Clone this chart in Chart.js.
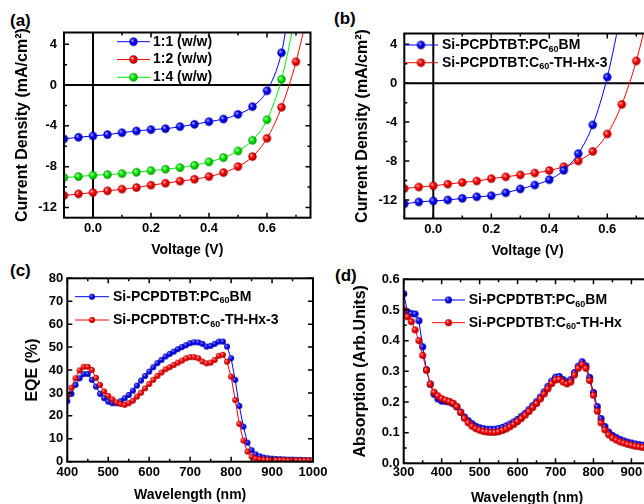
<!DOCTYPE html>
<html>
<head>
<meta charset="utf-8">
<title>Si-PCPDTBT devices</title>
<script src="https://cdn.jsdelivr.net/npm/chart.js@4.4.1/dist/chart.umd.min.js"></script>
<style>
  html, body { margin: 0; padding: 0; background: #fff; }
  body { position: relative; width: 644px; height: 504px; overflow: hidden; }
  canvas { position: absolute; }
  .tag { position: absolute; font: bold 17px 'Liberation Sans', Arial, sans-serif; color: #000; line-height: 20px; }
</style>
</head>
<body>
<div class="tag" style="left:10px;top:11px">(a)</div>
<div class="tag" style="left:334px;top:9px">(b)</div>
<div class="tag" style="left:10px;top:261px">(c)</div>
<div class="tag" style="left:335px;top:266px">(d)</div>
<canvas id="chartA" width="322" height="262" style="left:0;top:0;width:322px;height:262px"></canvas>
<canvas id="chartB" width="350" height="262" style="left:322px;top:0;width:350px;height:262px"></canvas>
<canvas id="chartC" width="340" height="258" style="left:0;top:250px;width:340px;height:258px"></canvas>
<canvas id="chartD" width="370" height="258" style="left:322px;top:250px;width:370px;height:258px"></canvas>
<script>
// ---- J-V data (V, mA/cm2) ----
const voltage = [-0.1, -0.05, 0, 0.05, 0.1, 0.15, 0.2, 0.25, 0.3, 0.35, 0.4, 0.45, 0.5, 0.55, 0.6, 0.65, 0.7];
const j11 = [-5.28, -5.12, -4.99, -4.86, -4.67, -4.5, -4.37, -4.28, -4.08, -3.85, -3.59, -3.33, -2.87, -2.12, -0.56, 3.16, null];
const j12 = [-10.83, -10.67, -10.54, -10.37, -10.2, -10.05, -9.81, -9.62, -9.42, -9.23, -8.97, -8.58, -7.99, -7.01, -5.22, -2.18, 2.28];
const j14 = [-9.07, -8.97, -8.84, -8.78, -8.68, -8.54, -8.39, -8.25, -8.09, -7.86, -7.53, -7.11, -6.46, -5.41, -3.4, 0.56, null];
const jPcbm = [-12.4, -12.2, -12.1, -12.0, -11.83, -11.67, -11.56, -11.26, -10.87, -10.46, -9.92, -8.95, -7.24, -4.29, 0.62, null, null];
// fitted curve continues above the frame
const tail11 = [0.675, 7.2];
const tail12 = [0.74, 7.0];
const tail14 = [0.70, 7.0];
const tailPcbm = [0.65, 7.6];

// ---- EQE data (nm, %) ----
const eqeNm = [400, 410, 420, 430, 440, 450, 460, 470, 480, 490, 500, 510, 520, 530, 540, 550, 560, 570, 580, 590,
  600, 610, 620, 630, 640, 650, 660, 670, 680, 690, 700, 710, 720, 730, 740, 750, 760, 770, 780, 790,
  800, 810, 820, 830, 840, 850, 860, 870, 880, 890, 900, 910, 920, 930, 940, 950, 960, 970, 980, 990, 1000];
const eqePcbm = [26.4, 29.6, 33.5, 36.4, 38.2, 38.3, 35.7, 32.8, 29.6, 27.7, 26.2, 25.5, 25.5, 26.4, 27.7, 29.1, 31.0, 33.2, 35.4, 37.4,
  39.3, 41.2, 43.0, 44.4, 45.9, 47.0, 48.0, 49.1, 50.0, 50.8, 51.7, 52.1, 52.0, 51.4, 50.2, 50.5, 51.4, 52.4, 52.4, 50.2,
  45.1, 35.7, 24.3, 15.3, 8.3, 5.0, 3.2, 2.3, 1.8, 1.5, 1.3, 1.2, 1.1, 1.0, 0.9, 0.9, 0.8, 0.8, 0.7, 0.7, 0.6];
const eqeTh = [28.8, 32.3, 36.4, 39.8, 41.4, 41.4, 40.0, 36.6, 33.5, 30.6, 28.7, 27.2, 25.9, 25.2, 24.8, 25.5, 26.6, 28.4, 30.1, 32.0,
  33.9, 35.7, 37.4, 38.9, 40.3, 41.2, 42.2, 43.2, 44.1, 45.1, 45.6, 45.6, 45.1, 43.7, 42.9, 43.2, 44.4, 46.2, 46.6, 43.6,
  37.1, 26.9, 16.5, 9.2, 4.4, 2.2, 1.4, 1.1, 0.9, 0.8, 0.8, 0.7, 0.7, 0.7, 0.6, 0.6, 0.6, 0.5, 0.5, 0.5, 0.5];

// ---- absorption data (nm, a.u.) ----
const absNm = [300, 310, 320, 330, 340, 350, 360, 370, 380, 390, 400, 410, 420, 430, 440, 450, 460, 470, 480, 490,
  500, 510, 520, 530, 540, 550, 560, 570, 580, 590, 600, 610, 620, 630, 640, 650, 660, 670, 680, 690,
  700, 710, 720, 730, 740, 750, 760, 770, 780, 790, 800, 810, 820, 830, 840, 850, 860, 870, 880, 890,
  900, 910, 920, 930, 940, 950];
const absPcbm = [0.553, 0.494, 0.488, 0.487, 0.465, 0.38, 0.305, 0.258, 0.225, 0.21, 0.203, 0.202, 0.2, 0.194, 0.184, 0.167, 0.151, 0.139, 0.129, 0.121,
  0.116, 0.113, 0.111, 0.111, 0.111, 0.113, 0.117, 0.122, 0.128, 0.135, 0.143, 0.153, 0.163, 0.175, 0.188, 0.201, 0.216, 0.233, 0.251, 0.268,
  0.281, 0.283, 0.273, 0.265, 0.273, 0.296, 0.317, 0.331, 0.318, 0.28, 0.231, 0.185, 0.146, 0.12, 0.102, 0.091, 0.084, 0.078, 0.073, 0.069,
  0.066, 0.063, 0.061, 0.059, 0.057, 0.055];
const absTh = [0.50, 0.478, 0.462, 0.435, 0.40, 0.352, 0.304, 0.258, 0.232, 0.22, 0.211, 0.206, 0.202, 0.196, 0.185, 0.166, 0.147, 0.132, 0.121, 0.113,
  0.108, 0.104, 0.102, 0.101, 0.101, 0.103, 0.107, 0.112, 0.119, 0.127, 0.136, 0.146, 0.157, 0.169, 0.182, 0.195, 0.21, 0.226, 0.243, 0.26,
  0.272, 0.274, 0.265, 0.259, 0.265, 0.288, 0.31, 0.322, 0.31, 0.27, 0.222, 0.17, 0.132, 0.109, 0.093, 0.083, 0.076, 0.07, 0.066, 0.062,
  0.059, 0.056, 0.054, 0.052, 0.05, 0.049];

// ---- tick labels / legend text ----
const ivTicksX = [0.0, 0.2, 0.4, 0.6];
const ivTicksY = [-12, -8, -4, 0, 4];
const nmTicksC = [400, 500, 600, 700, 800, 900, 1000];
const eqeTicks = [0, 10, 20, 30, 40, 50, 60, 70, 80];
const nmTicksD = [300, 400, 500, 600, 700, 800, 900];
const absTicks = [0.0, 0.1, 0.2, 0.3, 0.4, 0.5, 0.6];
const legendA = ['1:1 (w/w)', '1:2 (w/w)', '1:4 (w/w)'];
const legendB = ['Si-PCPDTBT:PC_{60}BM', 'Si-PCPDTBT:C_{60}-TH-Hx-3'];
const legendD = ['Si-PCPDTBT:PC_{60}BM', 'Si-PCPDTBT:C_{60}-TH-Hx'];

const FONT = "'Liberation Sans', Arial, sans-serif";
Chart.defaults.font.family = FONT;
Chart.defaults.font.weight = 'bold';
Chart.defaults.color = '#000';
Chart.defaults.animation = false;
Chart.defaults.plugins.legend.display = false;
Chart.defaults.plugins.tooltip.enabled = false;

const BLUE = ['#a0a0ff', '#0000ff', '#00009a'];
const RED = ['#ffa8a8', '#ff0000', '#a00000'];
const GREEN = ['#b8ffb8', '#00f000', '#008c00'];

// shaded ball used as marker
function ball(col, r) {
  const c = document.createElement('canvas');
  const s = Math.ceil(2 * r + 2);
  c.width = c.height = s;
  const g = c.getContext('2d');
  const m = s / 2;
  const grad = g.createRadialGradient(m - r * 0.35, m - r * 0.35, r * 0.1, m, m, r);
  grad.addColorStop(0, col[0]);
  grad.addColorStop(0.45, col[1]);
  grad.addColorStop(1, col[2]);
  g.fillStyle = grad;
  g.beginPath();
  g.arc(m, m, r, 0, Math.PI * 2);
  g.fill();
  return c;
}

function series(xs, ys, tail, col, r, smooth, order) {
  const pts = xs.map((x, i) => ({x: x, y: ys[i]})).filter(p => p.y !== null);
  if (tail) pts.push({x: tail[0], y: tail[1], tail: true});
  return {
    data: pts,
    borderColor: col[1],
    borderWidth: 1,
    pointStyle: ball(col, r),
    pointRadius: c => (c.raw && c.raw.tail) ? 0 : r,
    cubicInterpolationMode: smooth ? 'monotone' : 'default',
    tension: 0,
    order: order || 0
  };
}

function axes(o) {
  return {
    x: {
      type: 'linear', min: o.x[0], max: o.x[1],
      afterBuildTicks: s => { s.ticks = o.xTicks.map(v => ({value: v})); },
      afterFit: s => { s.height = o.xSize; },
      grid: {display: false, drawTicks: false},
      border: {display: false},
      ticks: {padding: o.xPad, font: {size: 13}, maxRotation: 0, autoSkip: false, callback: o.xFmt},
      title: {display: true, text: o.xTitle, font: {size: 14}, padding: {top: 0, bottom: o.xTitlePad}}
    },
    y: {
      type: 'linear', min: o.y[0], max: o.y[1],
      afterBuildTicks: s => { s.ticks = o.yTicks.map(v => ({value: v})); },
      afterFit: s => { s.width = o.ySize; },
      grid: {display: false, drawTicks: false},
      border: {display: false},
      ticks: {padding: o.yPad, font: {size: 13}, autoSkip: false, callback: o.yFmt},
      title: {display: true, text: o.yTitle, font: {size: 16}, padding: {top: o.yTitlePad, bottom: 0}}
    }
  };
}

// Origin-style frame: inward ticks on all sides, optional zero lines
const frame = {
  id: 'frame',
  beforeDatasetsDraw(chart, args, o) {
    if (!o.zero) return;
    const {ctx, chartArea: a, scales: {x, y}} = chart;
    const x0 = x.getPixelForValue(0), y0 = y.getPixelForValue(0);
    ctx.save();
    ctx.strokeStyle = '#000';
    ctx.lineWidth = 2;
    ctx.beginPath();
    ctx.moveTo(x0, a.top); ctx.lineTo(x0, a.bottom);
    ctx.moveTo(a.left, y0); ctx.lineTo(a.right, y0);
    ctx.stroke();
    ctx.restore();
  },
  afterDatasetsDraw(chart, args, o) {
    const {ctx, chartArea: a, scales: {x, y}} = chart;
    ctx.save();
    ctx.strokeStyle = '#000';
    ctx.lineWidth = 1.5;
    ctx.beginPath();
    const marks = (scale, step, len, horiz) => {
      for (let k = Math.ceil(scale.min / step - 1e-6); k * step <= scale.max + 1e-6; k++) {
        const p = scale.getPixelForValue(k * step);
        if (horiz) {
          ctx.moveTo(p, a.bottom); ctx.lineTo(p, a.bottom - len);
          ctx.moveTo(p, a.top); ctx.lineTo(p, a.top + len);
        } else {
          ctx.moveTo(a.left, p); ctx.lineTo(a.left + len, p);
          ctx.moveTo(a.right, p); ctx.lineTo(a.right - len, p);
        }
      }
    };
    marks(x, o.xMinor, 3, true);
    marks(y, o.yMinor, 3, false);
    marks(x, o.xMajor, 5, true);
    marks(y, o.yMajor, 5, false);
    ctx.stroke();
    ctx.lineWidth = 2;
    ctx.strokeRect(a.left, a.top, a.width, a.height);
    ctx.restore();
  }
};

// text with _{sub} parts
function richText(ctx, text, x, y, size) {
  const parts = text.split(/(_\{[^}]*\})/).filter(Boolean);
  ctx.textBaseline = 'middle';
  ctx.textAlign = 'left';
  parts.forEach(p => {
    const sub = p.startsWith('_{');
    const t = sub ? p.slice(2, -1) : p;
    ctx.font = 'bold ' + (sub ? Math.round(size * 0.62) : size) + 'px ' + FONT;
    ctx.fillText(t, x, sub ? y + size * 0.3 : y);
    x += ctx.measureText(t).width;
  });
}

const legendBox = {
  id: 'legendBox',
  afterDraw(chart, args, o) {
    const ctx = chart.ctx;
    ctx.save();
    ctx.fillStyle = '#000';
    o.labels.forEach((label, i) => {
      const ds = chart.data.datasets[i];
      const y = o.y + i * o.dy;
      ctx.strokeStyle = ds.borderColor;
      ctx.lineWidth = 1;
      ctx.beginPath();
      ctx.moveTo(o.x, y); ctx.lineTo(o.x + o.len, y);
      ctx.stroke();
      const img = ds.pointStyle;
      ctx.drawImage(img, o.x + o.len / 2 - img.width / 2, y - img.height / 2);
      ctx.fillStyle = '#000';
      richText(ctx, label, o.x + o.len + o.gap, y, 14);
    });
    ctx.restore();
  }
};

const fmt1 = v => Number(v).toFixed(1);
const fmt0 = v => String(v);

// (a) J-V for blend ratios
new Chart(document.getElementById('chartA'), {
  type: 'line',
  data: {datasets: [
    series(voltage, j11, tail11, BLUE, 4.2, true),
    series(voltage, j12, tail12, RED, 4.2, true),
    series(voltage, j14, tail14, GREEN, 4.2, true)
  ]},
  options: {
    responsive: false,
    layout: {padding: {left: 0, top: 32.5, right: 11.5, bottom: 0}},
    scales: axes({x: [-0.1, 0.75], y: [-13, 5.15], xTicks: ivTicksX, yTicks: ivTicksY,
      xSize: 44.3, ySize: 64, xPad: 3, yPad: 7, xFmt: fmt1, yFmt: fmt0,
      xTitle: 'Voltage (V)', yTitle: 'Current Density (mA/cm²)', xTitlePad: 3, yTitlePad: 13}),
    plugins: {
      frame: {zero: true, xMajor: 0.2, xMinor: 0.1, yMajor: 4, yMinor: 2},
      legendBox: {labels: legendA, x: 117, y: 41.7, dy: 17.8, len: 33, gap: 3}
    }
  },
  plugins: [frame, legendBox]
});

// (b) J-V, PC60BM vs C60-TH-Hx-3
new Chart(document.getElementById('chartB'), {
  type: 'line',
  data: {datasets: [
    series(voltage, jPcbm, tailPcbm, BLUE, 4.2, true),
    series(voltage, j12, tail12, RED, 4.2, true)
  ]},
  options: {
    responsive: false,
    layout: {padding: {left: 0, top: 33.5, right: 21.2, bottom: 0}},
    scales: axes({x: [-0.1, 0.75], y: [-13.9, 5.1], xTicks: ivTicksX, yTicks: ivTicksY,
      xSize: 43.5, ySize: 82.3, xPad: 3, yPad: 7, xFmt: fmt1, yFmt: fmt0,
      xTitle: 'Voltage (V)', yTitle: 'Current Density (mA/cm²)', xTitlePad: 2.6, yTitlePad: 31}),
    plugins: {
      frame: {zero: true, xMajor: 0.2, xMinor: 0.1, yMajor: 4, yMinor: 2},
      legendBox: {labels: legendB, x: 82, y: 45, dy: 17.7, len: 34, gap: 4}
    }
  },
  plugins: [frame, legendBox]
});

// (c) EQE
new Chart(document.getElementById('chartC'), {
  type: 'line',
  data: {datasets: [
    series(eqeNm, eqePcbm, null, BLUE, 3, false, 0),
    series(eqeNm, eqeTh, null, RED, 3, false, -1)
  ]},
  options: {
    responsive: false,
    layout: {padding: {left: 0, top: 28.3, right: 27, bottom: 0}},
    scales: axes({x: [400, 1000], y: [0, 80], xTicks: nmTicksC, yTicks: eqeTicks,
      xSize: 46.3, ySize: 67.3, xPad: 3, yPad: 4, xFmt: fmt0, yFmt: fmt0,
      xTitle: 'Wavelength (nm)', yTitle: 'EQE (%)', xTitlePad: 4.6, yTitlePad: 23}),
    plugins: {
      frame: {zero: false, xMajor: 100, xMinor: 50, yMajor: 10, yMinor: 10},
      legendBox: {labels: legendB, x: 75, y: 46.7, dy: 23.3, len: 34, gap: 4}
    }
  },
  plugins: [frame, legendBox]
});

// (d) absorption
new Chart(document.getElementById('chartD'), {
  type: 'line',
  data: {datasets: [
    series(absNm, absPcbm, null, BLUE, 3.5, false, 0),
    series(absNm, absTh, null, RED, 3.5, false, -1)
  ]},
  options: {
    responsive: false,
    layout: {padding: {left: 0, top: 29.3, right: 41.6, bottom: 0}},
    scales: axes({x: [300, 950], y: [0, 0.6], xTicks: nmTicksD, yTicks: absTicks,
      xSize: 44.7, ySize: 81.7, xPad: 1, yPad: 4, xFmt: fmt0, yFmt: fmt1,
      xTitle: 'Wavelength (nm)', yTitle: 'Absorption (Arb.Units)', xTitlePad: 1.6, yTitlePad: 28.7}),
    plugins: {
      frame: {zero: false, xMajor: 100, xMinor: 50, yMajor: 0.1, yMinor: 0.05},
      legendBox: {labels: legendD, x: 110, y: 50, dy: 22.7, len: 33, gap: 3.7}
    }
  },
  plugins: [frame, legendBox]
});
</script>
</body>
</html>
